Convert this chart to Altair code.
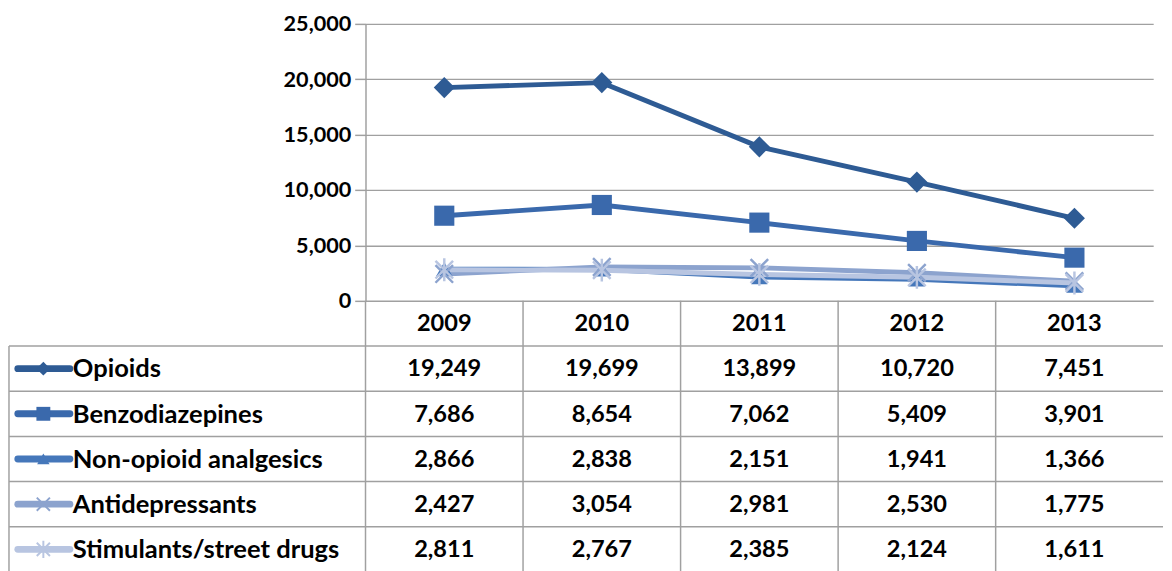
import altair as alt
import pandas as pd

years = ["2009", "2010", "2011", "2012", "2013"]
series = ["Opioids", "Benzodiazepines", "Non-opioid analgesics",
          "Antidepressants", "Stimulants/street drugs"]
opioids = [19249, 19699, 13899, 10720, 7451]
benzodiazepines = [7686, 8654, 7062, 5409, 3901]
non_opioid = [2866, 2838, 2151, 1941, 1366]
antidepressants = [2427, 3054, 2981, 2530, 1775]
stimulants = [2811, 2767, 2385, 2124, 1611]
y_ticks = [0, 5000, 10000, 15000, 20000, 25000]

values = [opioids, benzodiazepines, non_opioid, antidepressants, stimulants]
colors = ["#2E5B94", "#3A69AC", "#4577BA", "#8CA3CE", "#B8C5E1"]
shapes = ["diamond", "square", "triangle-up",
          "M-1,-1L1,1M-1,1L1,-1",
          "M-1,-1L1,1M-1,1L1,-1M0,-1.3L0,1.3"]
filled = [True, True, True, False, False]
msize = [460, 420, 280, 320, 320]
lsize = [200, 200, 160, 180, 180]

rows = []
for s, vals in zip(series, values):
    for yr, v in zip(years, vals):
        rows.append({"series": s, "year": yr, "value": v, "row": s, "label": f"{v:,}"})
df = pd.DataFrame(rows)

hdr = pd.DataFrame({"row": ["_hdr"] * len(years), "year": years, "label": years})
cells = pd.concat([hdr, df[["row", "year", "label"]]], ignore_index=True)
leg = pd.DataFrame({"row": series})

W = 802
H = 282
ROW = 46
TH = ROW * 6
LEFT = -363
FONT = "Lato"
GRID = "#a0a0a0"

# ---------- top line chart ----------
xpt = alt.X("year:N", scale=alt.Scale(type="point", domain=years, padding=0.5),
            axis=None)
yq = alt.Y("value:Q", scale=alt.Scale(domain=[0, 25000], nice=False),
           axis=alt.Axis(values=y_ticks, format=",d", title=None, labelFont=FONT,
                         labelFontSize=22, labelFontWeight="bold", labelColor="black",
                         grid=True, gridColor=GRID, gridWidth=1.5, tickColor=GRID,
                         tickSize=11, tickWidth=1.5, domainColor=GRID, domainWidth=1.5,
                         labelPadding=4))

base = alt.Chart(df)
layers = []
for s, c in zip(series, colors):
    layers.append(base.transform_filter(alt.datum.series == s)
                  .mark_line(color=c, strokeWidth=5)
                  .encode(x=xpt, y=yq))
for s, c, sh, f, sz in zip(series, colors, shapes, filled, msize):
    layers.append(base.transform_filter(alt.datum.series == s)
                  .mark_point(shape=sh, color=c, filled=f, size=sz, opacity=1,
                              strokeWidth=2.5)
                  .encode(x=xpt, y=yq))
top = alt.layer(*layers).properties(width=W, height=H)

# ---------- data table ----------
rowdom = ["_hdr"] + series
band_x = alt.Scale(type="band", domain=years, paddingInner=0, paddingOuter=0)
band_y = alt.Scale(type="band", domain=rowdom, paddingInner=0, paddingOuter=0)
ybc = alt.Y("row:N", scale=band_y, axis=None, bandPosition=0.5)
yb0 = alt.Y("row:N", scale=band_y, axis=None, bandPosition=0)

cell_text = alt.Chart(cells).mark_text(font=FONT, fontSize=24, fontWeight="bold",
                                       color="black", align="center",
                                       baseline="middle", dy=1).encode(
    x=alt.X("year:N", scale=band_x, axis=None, bandPosition=0.5),
    y=ybc, text="label:N")

hlines = alt.Chart(leg).mark_rule(color=GRID, strokeWidth=1.5).encode(
    y=yb0, x=alt.value(LEFT), x2=alt.value(W + 10))
bottom_line = alt.Chart(leg).transform_filter(alt.datum.row == series[0]).mark_rule(
    color=GRID, strokeWidth=1.5).encode(y=alt.value(TH), x=alt.value(LEFT),
                                        x2=alt.value(W + 10))
vlines = alt.Chart(pd.DataFrame({"year": years})).mark_rule(
    color=GRID, strokeWidth=1.5).encode(
    x=alt.X("year:N", scale=band_x, axis=None, bandPosition=0),
    y=alt.value(0), y2=alt.value(TH))
left_line = alt.Chart(leg).transform_filter(alt.datum.row == series[0]).mark_rule(
    color=GRID, strokeWidth=1.5).encode(x=alt.value(LEFT), y=yb0, y2=alt.value(TH))

leg_text = alt.Chart(leg).mark_text(font=FONT, fontSize=26, fontWeight="bold",
                                    color="black", align="left", baseline="middle",
                                    dy=1).encode(
    x=alt.value(LEFT + 65), y=ybc, text="row:N")

tlayers = [hlines, bottom_line, vlines, left_line, cell_text, leg_text]
for s, c, sh, f, sz in zip(series, colors, shapes, filled, lsize):
    sub = alt.Chart(leg).transform_filter(alt.datum.row == s)
    tlayers.append(sub.mark_rule(color=c, strokeWidth=7, strokeCap="round").encode(
        x=alt.value(LEFT + 9), x2=alt.value(LEFT + 62), y=ybc))
    tlayers.append(sub.mark_point(shape=sh, color=c, filled=f, size=sz, opacity=1,
                                  strokeWidth=2).encode(x=alt.value(LEFT + 35), y=ybc))
table = alt.layer(*tlayers).properties(width=W, height=TH)

chart = alt.vconcat(top, table, spacing=0, bounds="flush").resolve_scale(
    x="independent", y="independent").properties(
    padding={"left": 0, "top": 0, "right": 0, "bottom": 0}
).configure_view(stroke=None)

chart.save("out.html", embed_options={"renderer": "svg", "actions": False})
